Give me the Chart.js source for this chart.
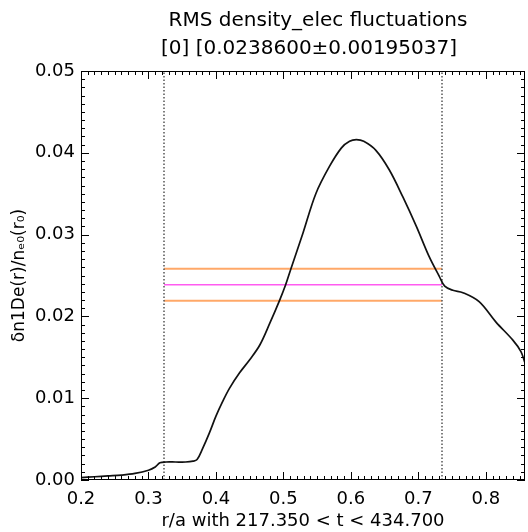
<!DOCTYPE html>
<html lang="en">
<head>
    <meta charset="UTF-8">
    <title>RMS density_elec fluctuations</title>
    <style>
        html, body { margin: 0; padding: 0; background: #fff; }
        #wrap { width: 528px; height: 532px; }
    </style>
    <script src="https://cdn.jsdelivr.net/npm/chart.js"></script>
</head>
<body>
    <div id="wrap"><canvas id="chart" width="528" height="532"></canvas></div>

    <script>
        // data
        const rVals = [0.200, 0.220, 0.240, 0.260, 0.280, 0.300, 0.310, 0.317, 0.326, 0.340, 0.355, 0.366, 0.372,
                       0.380, 0.390, 0.400, 0.410, 0.420, 0.435, 0.450, 0.465, 0.480, 0.494, 0.503, 0.511, 0.529,
                       0.548, 0.568, 0.586, 0.598, 0.608, 0.619, 0.637, 0.657, 0.677, 0.697, 0.716, 0.731, 0.739,
                       0.751, 0.766, 0.790, 0.815, 0.840, 0.852, 0.858];
        const dnVals = [0.0003, 0.0004, 0.0005, 0.0006, 0.0008, 0.0012, 0.0016, 0.0021, 0.0022, 0.0022, 0.0022, 0.0023, 0.0025,
                        0.0038, 0.0057, 0.0078, 0.0096, 0.0112, 0.0131, 0.0147, 0.0165, 0.0192, 0.0219, 0.0238, 0.0258, 0.0302,
                        0.0350, 0.0383, 0.0406, 0.0414, 0.0416, 0.0414, 0.0403, 0.0379, 0.0346, 0.0310, 0.0273, 0.0249, 0.0237,
                        0.0232, 0.0229, 0.0218, 0.0193, 0.0171, 0.0157, 0.0143];
        const bounds = [0.323, 0.735];
        const meanLevel = 0.02386;
        const errLevels = [0.02581, 0.02191];
        const xTicks = [0.2, 0.3, 0.4, 0.5, 0.6, 0.7, 0.8];
        const yTicks = [0.00, 0.01, 0.02, 0.03, 0.04, 0.05];
        const titleLines = ['RMS density_elec fluctuations', '[0] [0.0238600\u00b10.00195037]'];

        const FONT = "'DejaVu Sans', sans-serif";

        const curve = rVals.map((r, i) => ({ x: r, y: dnVals[i] }));
        const vLine = (x) => [{ x: x, y: 0 }, { x: x, y: 0.05 }];
        const hLine = (y) => [{ x: bounds[0], y: y }, { x: bounds[1], y: y }];

        // IDL style box with inward ticks and the title
        const boxPlugin = {
            id: 'box',
            afterDraw(chart) {
                const ctx = chart.ctx;
                const a = chart.chartArea;
                const xs = chart.scales.x, ys = chart.scales.y;
                ctx.save();
                ctx.strokeStyle = '#000';
                ctx.lineWidth = 1;
                ctx.strokeRect(a.left + 0.5, a.top + 0.5, a.right - a.left - 1, a.bottom - a.top - 1);
                ctx.beginPath();
                for (let i = 20; i <= 85; i++) {
                    const px = Math.round(xs.getPixelForValue(i / 100)) + 0.5;
                    const len = i % 10 === 0 ? 8 : 4;
                    ctx.moveTo(px, a.bottom); ctx.lineTo(px, a.bottom - len);
                    ctx.moveTo(px, a.top); ctx.lineTo(px, a.top + len);
                }
                for (let i = 0; i <= 50; i++) {
                    const py = Math.round(ys.getPixelForValue(i / 1000)) + 0.5;
                    const len = i % 10 === 0 ? 8 : 4;
                    ctx.moveTo(a.left, py); ctx.lineTo(a.left + len, py);
                    ctx.moveTo(a.right, py); ctx.lineTo(a.right - len, py);
                }
                ctx.stroke();

                ctx.fillStyle = '#000';
                ctx.font = '20px ' + FONT;
                ctx.textAlign = 'center';
                ctx.textBaseline = 'middle';
                ctx.fillText(titleLines[0], 318, 21);
                ctx.fillText(titleLines[1], 309, 49);
                ctx.restore();
            }
        };

        const ctx = document.getElementById('chart').getContext('2d');
        new Chart(ctx, {
            type: 'scatter',
            data: {
                datasets: [
                    {
                        label: 'curve',
                        data: curve,
                        showLine: true,
                        borderColor: '#111',
                        borderWidth: 1.7,
                        pointRadius: 0,
                        tension: 0.35,
                    },
                    {
                        label: 'left',
                        data: vLine(bounds[0]),
                        showLine: true,
                        borderColor: '#555',
                        borderWidth: 1.5,
                        borderDash: [1.5, 2],
                        pointRadius: 0,
                    },
                    {
                        label: 'right',
                        data: vLine(bounds[1]),
                        showLine: true,
                        borderColor: '#555',
                        borderWidth: 1.5,
                        borderDash: [1.5, 2],
                        pointRadius: 0,
                    },
                    {
                        label: 'upper',
                        data: hLine(errLevels[0]),
                        showLine: true,
                        borderColor: '#ffa868',
                        borderWidth: 2,
                        pointRadius: 0,
                    },
                    {
                        label: 'mean',
                        data: hLine(meanLevel),
                        showLine: true,
                        borderColor: '#ff5cf0',
                        borderWidth: 1.5,
                        pointRadius: 0,
                    },
                    {
                        label: 'lower',
                        data: hLine(errLevels[1]),
                        showLine: true,
                        borderColor: '#ffa868',
                        borderWidth: 2,
                        pointRadius: 0,
                    },
                ],
            },
            options: {
                responsive: false,
                animation: false,
                layout: { padding: { top: 71, right: 3, left: 0, bottom: 0 } },
                plugins: {
                    legend: { display: false },
                    tooltip: { enabled: false },
                },
                scales: {
                    x: {
                        type: 'linear',
                        min: 0.2,
                        max: 0.858,
                        grid: { display: false, drawTicks: false },
                        border: { display: false },
                        afterBuildTicks: (s) => { s.ticks = xTicks.map(v => ({ value: v })); },
                        afterFit: (s) => { s.height = 52; },
                        ticks: {
                            padding: 9,
                            color: '#000',
                            font: { family: FONT, size: 18 },
                            callback: (v) => v.toFixed(1),
                        },
                        title: {
                            display: true,
                            text: 'r/a with 217.350 < t < 434.700',
                            color: '#000',
                            font: { family: FONT, size: 18 },
                            padding: { top: 0, bottom: 0 },
                        },
                    },
                    y: {
                        type: 'linear',
                        min: 0,
                        max: 0.05,
                        grid: { display: false, drawTicks: false },
                        border: { display: false },
                        afterBuildTicks: (s) => { s.ticks = yTicks.map(v => ({ value: v })); },
                        afterFit: (s) => { s.width = 81; },
                        ticks: {
                            padding: 6,
                            color: '#000',
                            font: { family: FONT, size: 18 },
                            callback: (v) => v.toFixed(2),
                        },
                        title: {
                            display: true,
                            text: '\u03b4n1De(r)/n\u2091\u2080(r\u2080)',
                            color: '#000',
                            font: { family: FONT, size: 17 },
                            padding: { top: 9, bottom: 0 },
                        },
                    },
                },
            },
            plugins: [boxPlugin],
        });
    </script>
</body>
</html>
